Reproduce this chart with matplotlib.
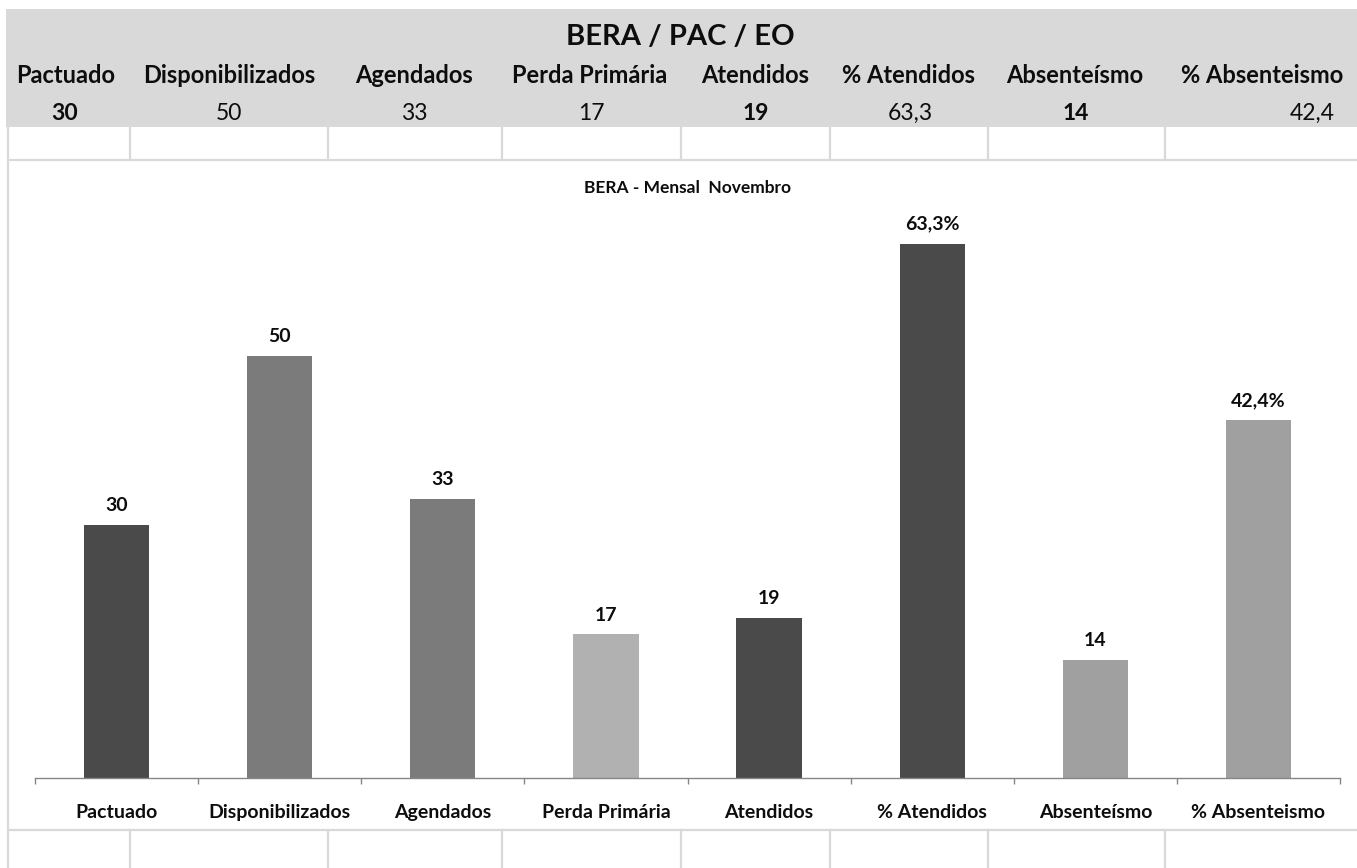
import matplotlib
matplotlib.use("Agg")
import matplotlib.pyplot as plt
from matplotlib.lines import Line2D
from matplotlib.patches import Rectangle

plt.rcParams['font.family'] = ['Lato', 'DejaVu Sans']

# ---- data ----
table_title = "BERA / PAC / EO"
chart_title = "BERA - Mensal  Novembro"
categories = ["Pactuado", "Disponibilizados", "Agendados", "Perda Primária",
              "Atendidos", "% Atendidos", "Absenteísmo", "% Absenteismo"]
values = [30, 50, 33, 17, 19, 63.3, 14, 42.4]
is_percent = [False, False, False, False, False, True, False, True]
value_bold = [True, False, False, False, True, False, True, False]
bar_colors = ["#4a4a4a", "#7b7b7b", "#7b7b7b", "#b1b1b1",
              "#4a4a4a", "#4a4a4a", "#a0a0a0", "#a0a0a0"]

W, H = 1357, 868
fig = plt.figure(figsize=(W / 100, H / 100), dpi=100)
fig.patch.set_facecolor("white")


def fx(x):
    return x / W


def fy(y):
    return 1 - y / H


def fmt(v, pct=False):
    s = ("%.1f" % v).replace(".", ",") if v != int(v) else "%d" % v
    return s + ("%" if pct else "")


grid_c = "#d9d9d9"
band_c = "#d9d9d9"
ink = "#0d0d0d"

# header band of the sheet
fig.add_artist(Rectangle((fx(6), fy(127)), fx(W - 6), (127 - 9) / H,
                         transform=fig.transFigure, facecolor=band_c,
                         edgecolor="none", zorder=0))

col_lines = [130, 328, 502, 681, 830, 988, 1165]


def hline(y, x0=8, x1=W):
    fig.add_artist(Line2D([fx(x0), fx(x1)], [fy(y), fy(y)], color=grid_c,
                          lw=1.6, transform=fig.transFigure, zorder=1))


def vline(x, y0, y1):
    fig.add_artist(Line2D([fx(x), fx(x)], [fy(y0), fy(y1)], color=grid_c,
                          lw=1.6, transform=fig.transFigure, zorder=1))


# empty spreadsheet rows above and below the chart
hline(160)
hline(830)
vline(8, 127, H)
for x in col_lines:
    vline(x, 127, 160)
    vline(x, 830, H)

# header texts
fig.text(fx(680), fy(45), table_title, ha="center", va="baseline",
         fontsize=21, fontweight="bold", color=ink)
head_x = [66, 229, 414, 590, 755, 909, 1075, 1262]
val_x = [65, 229, 414, 591, 756, 910, 1076, 1312]
for i, name in enumerate(categories):
    fig.text(fx(head_x[i]), fy(83), name, ha="center", va="baseline",
             fontsize=17, fontweight="bold", color=ink)
    fig.text(fx(val_x[i]), fy(120), fmt(values[i]), ha="center",
             va="baseline", fontsize=16.5,
             fontweight="bold" if value_bold[i] else "normal", color=ink)

# chart
ax = fig.add_axes([fx(35), fy(778), fx(1340 - 35), (778 - 187) / H])
ax.patch.set_alpha(0)
xs = list(range(len(categories)))
bars = ax.bar(xs, values, width=0.4, color=bar_colors, zorder=2)
for b, v, p in zip(bars, values, is_percent):
    ax.annotate(fmt(v, p), (b.get_x() + b.get_width() / 2, b.get_height()),
                xytext=(0, 10), textcoords="offset points", ha="center",
                va="baseline", fontsize=14, fontweight="bold", color=ink)

ax.set_xlim(-0.5, len(categories) - 0.5)
ax.set_ylim(0, 70)
for s in ["top", "right", "left"]:
    ax.spines[s].set_visible(False)
ax.spines["bottom"].set_color("#868686")
ax.spines["bottom"].set_linewidth(1)
ax.set_yticks([])
ax.set_xticks(xs)
ax.set_xticklabels(categories, fontsize=14, fontweight="bold", color=ink)
ax.tick_params(axis="x", which="major", length=0, pad=19)
ax.set_xticks([i - 0.5 for i in range(len(categories) + 1)], minor=True)
ax.tick_params(axis="x", which="minor", length=4, direction="out",
               color="#868686", width=1)

fig.text(fx(688), fy(188), chart_title, ha="center", va="center",
         fontsize=12.5, fontweight="bold", color=ink)

fig.savefig("out.png", dpi=100, facecolor="white")
